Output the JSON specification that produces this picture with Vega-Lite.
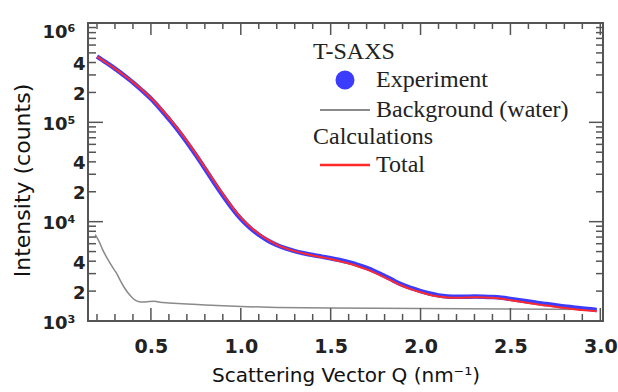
{
  "$schema": "https://vega.github.io/schema/vega-lite/v6.json",
  "width": 515,
  "height": 298,
  "autosize": {"type": "none"},
  "padding": {"left": 88, "top": 23, "right": 15, "bottom": 71},
  "background": "white",
  "config": {
    "view": {"stroke": "#555555", "strokeWidth": 2},
    "axis": {"domain": false, "grid": false, "labelOverlap": false, "labelBound": false, "labelFlush": false}
  },
  "datasets": {
    "curves": [
      {"q": 0.19, "I": 7400, "series": "Background (water)"},
      {"q": 0.21, "I": 6400, "series": "Background (water)"},
      {"q": 0.23, "I": 5300, "series": "Background (water)"},
      {"q": 0.25, "I": 4500, "series": "Background (water)"},
      {"q": 0.27, "I": 3900, "series": "Background (water)"},
      {"q": 0.29, "I": 3400, "series": "Background (water)"},
      {"q": 0.31, "I": 3000, "series": "Background (water)"},
      {"q": 0.33, "I": 2550, "series": "Background (water)"},
      {"q": 0.35, "I": 2200, "series": "Background (water)"},
      {"q": 0.37, "I": 1950, "series": "Background (water)"},
      {"q": 0.39, "I": 1760, "series": "Background (water)"},
      {"q": 0.41, "I": 1630, "series": "Background (water)"},
      {"q": 0.43, "I": 1570, "series": "Background (water)"},
      {"q": 0.46, "I": 1550, "series": "Background (water)"},
      {"q": 0.49, "I": 1570, "series": "Background (water)"},
      {"q": 0.52, "I": 1580, "series": "Background (water)"},
      {"q": 0.55, "I": 1545, "series": "Background (water)"},
      {"q": 0.6, "I": 1520, "series": "Background (water)"},
      {"q": 0.7, "I": 1480, "series": "Background (water)"},
      {"q": 0.8, "I": 1450, "series": "Background (water)"},
      {"q": 0.9, "I": 1420, "series": "Background (water)"},
      {"q": 1.0, "I": 1400, "series": "Background (water)"},
      {"q": 1.2, "I": 1370, "series": "Background (water)"},
      {"q": 1.5, "I": 1350, "series": "Background (water)"},
      {"q": 2.0, "I": 1335, "series": "Background (water)"},
      {"q": 2.5, "I": 1320, "series": "Background (water)"},
      {"q": 2.98, "I": 1305, "series": "Background (water)"},

      {"q": 0.2, "I": 460000, "series": "Experiment"},
      {"q": 0.25, "I": 401000, "series": "Experiment"},
      {"q": 0.3, "I": 347000, "series": "Experiment"},
      {"q": 0.35, "I": 297000, "series": "Experiment"},
      {"q": 0.4, "I": 252000, "series": "Experiment"},
      {"q": 0.45, "I": 210000, "series": "Experiment"},
      {"q": 0.5, "I": 173000, "series": "Experiment"},
      {"q": 0.55, "I": 138000, "series": "Experiment"},
      {"q": 0.6, "I": 108000, "series": "Experiment"},
      {"q": 0.65, "I": 83600, "series": "Experiment"},
      {"q": 0.7, "I": 63100, "series": "Experiment"},
      {"q": 0.75, "I": 46800, "series": "Experiment"},
      {"q": 0.8, "I": 34300, "series": "Experiment"},
      {"q": 0.85, "I": 25000, "series": "Experiment"},
      {"q": 0.9, "I": 18400, "series": "Experiment"},
      {"q": 0.95, "I": 13800, "series": "Experiment"},
      {"q": 1.0, "I": 10700, "series": "Experiment"},
      {"q": 1.05, "I": 8710, "series": "Experiment"},
      {"q": 1.1, "I": 7380, "series": "Experiment"},
      {"q": 1.15, "I": 6460, "series": "Experiment"},
      {"q": 1.2, "I": 5820, "series": "Experiment"},
      {"q": 1.25, "I": 5370, "series": "Experiment"},
      {"q": 1.3, "I": 5050, "series": "Experiment"},
      {"q": 1.35, "I": 4810, "series": "Experiment"},
      {"q": 1.4, "I": 4610, "series": "Experiment"},
      {"q": 1.45, "I": 4450, "series": "Experiment"},
      {"q": 1.5, "I": 4290, "series": "Experiment"},
      {"q": 1.55, "I": 4110, "series": "Experiment"},
      {"q": 1.6, "I": 3910, "series": "Experiment"},
      {"q": 1.65, "I": 3680, "series": "Experiment"},
      {"q": 1.7, "I": 3420, "series": "Experiment"},
      {"q": 1.75, "I": 3130, "series": "Experiment"},
      {"q": 1.8, "I": 2840, "series": "Experiment"},
      {"q": 1.85, "I": 2550, "series": "Experiment"},
      {"q": 1.9, "I": 2310, "series": "Experiment"},
      {"q": 1.95, "I": 2140, "series": "Experiment"},
      {"q": 2.0, "I": 2000, "series": "Experiment"},
      {"q": 2.05, "I": 1890, "series": "Experiment"},
      {"q": 2.1, "I": 1810, "series": "Experiment"},
      {"q": 2.15, "I": 1765, "series": "Experiment"},
      {"q": 2.2, "I": 1750, "series": "Experiment"},
      {"q": 2.25, "I": 1755, "series": "Experiment"},
      {"q": 2.3, "I": 1760, "series": "Experiment"},
      {"q": 2.35, "I": 1755, "series": "Experiment"},
      {"q": 2.4, "I": 1740, "series": "Experiment"},
      {"q": 2.45, "I": 1715, "series": "Experiment"},
      {"q": 2.5, "I": 1670, "series": "Experiment"},
      {"q": 2.55, "I": 1620, "series": "Experiment"},
      {"q": 2.6, "I": 1570, "series": "Experiment"},
      {"q": 2.65, "I": 1520, "series": "Experiment"},
      {"q": 2.7, "I": 1480, "series": "Experiment"},
      {"q": 2.75, "I": 1440, "series": "Experiment"},
      {"q": 2.8, "I": 1400, "series": "Experiment"},
      {"q": 2.85, "I": 1370, "series": "Experiment"},
      {"q": 2.9, "I": 1340, "series": "Experiment"},
      {"q": 2.95, "I": 1310, "series": "Experiment"},
      {"q": 2.98, "I": 1290, "series": "Experiment"},

      {"q": 0.2, "I": 458000, "series": "Total"},
      {"q": 0.25, "I": 400000, "series": "Total"},
      {"q": 0.3, "I": 347000, "series": "Total"},
      {"q": 0.35, "I": 298000, "series": "Total"},
      {"q": 0.4, "I": 254000, "series": "Total"},
      {"q": 0.45, "I": 213000, "series": "Total"},
      {"q": 0.5, "I": 176000, "series": "Total"},
      {"q": 0.55, "I": 141000, "series": "Total"},
      {"q": 0.6, "I": 111000, "series": "Total"},
      {"q": 0.65, "I": 86100, "series": "Total"},
      {"q": 0.7, "I": 65000, "series": "Total"},
      {"q": 0.75, "I": 48200, "series": "Total"},
      {"q": 0.8, "I": 35300, "series": "Total"},
      {"q": 0.85, "I": 25800, "series": "Total"},
      {"q": 0.9, "I": 19000, "series": "Total"},
      {"q": 0.95, "I": 14200, "series": "Total"},
      {"q": 1.0, "I": 11000, "series": "Total"},
      {"q": 1.05, "I": 8950, "series": "Total"},
      {"q": 1.1, "I": 7560, "series": "Total"},
      {"q": 1.15, "I": 6580, "series": "Total"},
      {"q": 1.2, "I": 5880, "series": "Total"},
      {"q": 1.25, "I": 5390, "series": "Total"},
      {"q": 1.3, "I": 5050, "series": "Total"},
      {"q": 1.35, "I": 4790, "series": "Total"},
      {"q": 1.4, "I": 4570, "series": "Total"},
      {"q": 1.45, "I": 4390, "series": "Total"},
      {"q": 1.5, "I": 4210, "series": "Total"},
      {"q": 1.55, "I": 4000, "series": "Total"},
      {"q": 1.6, "I": 3790, "series": "Total"},
      {"q": 1.65, "I": 3560, "series": "Total"},
      {"q": 1.7, "I": 3310, "series": "Total"},
      {"q": 1.75, "I": 3030, "series": "Total"},
      {"q": 1.8, "I": 2750, "series": "Total"},
      {"q": 1.85, "I": 2480, "series": "Total"},
      {"q": 1.9, "I": 2250, "series": "Total"},
      {"q": 1.95, "I": 2080, "series": "Total"},
      {"q": 2.0, "I": 1950, "series": "Total"},
      {"q": 2.05, "I": 1840, "series": "Total"},
      {"q": 2.1, "I": 1760, "series": "Total"},
      {"q": 2.15, "I": 1720, "series": "Total"},
      {"q": 2.2, "I": 1710, "series": "Total"},
      {"q": 2.25, "I": 1720, "series": "Total"},
      {"q": 2.3, "I": 1730, "series": "Total"},
      {"q": 2.35, "I": 1725, "series": "Total"},
      {"q": 2.4, "I": 1710, "series": "Total"},
      {"q": 2.45, "I": 1675, "series": "Total"},
      {"q": 2.5, "I": 1620, "series": "Total"},
      {"q": 2.55, "I": 1570, "series": "Total"},
      {"q": 2.6, "I": 1520, "series": "Total"},
      {"q": 2.65, "I": 1470, "series": "Total"},
      {"q": 2.7, "I": 1430, "series": "Total"},
      {"q": 2.75, "I": 1390, "series": "Total"},
      {"q": 2.8, "I": 1350, "series": "Total"},
      {"q": 2.85, "I": 1320, "series": "Total"},
      {"q": 2.9, "I": 1290, "series": "Total"},
      {"q": 2.95, "I": 1270, "series": "Total"},
      {"q": 2.98, "I": 1255, "series": "Total"}
    ],
    "xticks": [
      {"q": 0.2, "kind": "minor"}, {"q": 0.3, "kind": "minor"}, {"q": 0.4, "kind": "minor"}, {"q": 0.5, "kind": "major"},
      {"q": 0.6, "kind": "minor"}, {"q": 0.7, "kind": "minor"}, {"q": 0.8, "kind": "minor"}, {"q": 0.9, "kind": "minor"}, {"q": 1.0, "kind": "major"},
      {"q": 1.1, "kind": "minor"}, {"q": 1.2, "kind": "minor"}, {"q": 1.3, "kind": "minor"}, {"q": 1.4, "kind": "minor"}, {"q": 1.5, "kind": "major"},
      {"q": 1.6, "kind": "minor"}, {"q": 1.7, "kind": "minor"}, {"q": 1.8, "kind": "minor"}, {"q": 1.9, "kind": "minor"}, {"q": 2.0, "kind": "major"},
      {"q": 2.1, "kind": "minor"}, {"q": 2.2, "kind": "minor"}, {"q": 2.3, "kind": "minor"}, {"q": 2.4, "kind": "minor"}, {"q": 2.5, "kind": "major"},
      {"q": 2.6, "kind": "minor"}, {"q": 2.7, "kind": "minor"}, {"q": 2.8, "kind": "minor"}, {"q": 2.9, "kind": "minor"}, {"q": 3.0, "kind": "major"}
    ],
    "yticks": [
      {"I": 1000, "kind": "major"}, {"I": 2000, "kind": "minor"}, {"I": 3000, "kind": "minor"}, {"I": 4000, "kind": "minor"}, {"I": 5000, "kind": "minor"},
      {"I": 6000, "kind": "minor"}, {"I": 7000, "kind": "minor"}, {"I": 8000, "kind": "minor"}, {"I": 9000, "kind": "minor"},
      {"I": 10000, "kind": "major"}, {"I": 20000, "kind": "minor"}, {"I": 30000, "kind": "minor"}, {"I": 40000, "kind": "minor"}, {"I": 50000, "kind": "minor"},
      {"I": 60000, "kind": "minor"}, {"I": 70000, "kind": "minor"}, {"I": 80000, "kind": "minor"}, {"I": 90000, "kind": "minor"},
      {"I": 100000, "kind": "major"}, {"I": 200000, "kind": "minor"}, {"I": 300000, "kind": "minor"}, {"I": 400000, "kind": "minor"}, {"I": 500000, "kind": "minor"},
      {"I": 600000, "kind": "minor"}, {"I": 700000, "kind": "minor"}, {"I": 800000, "kind": "minor"}, {"I": 900000, "kind": "minor"},
      {"I": 1000000, "kind": "major"}
    ]
  },
  "layer": [
    {
      "data": {"name": "curves"},
      "transform": [{"filter": "datum.series === 'Background (water)'"}],
      "mark": {"type": "line", "strokeWidth": 1.5, "interpolate": "monotone"},
      "encoding": {
        "x": {
          "field": "q", "type": "quantitative",
          "scale": {"domain": [0.15, 3.015], "nice": false, "zero": false},
          "axis": {
            "orient": "bottom",
            "values": [0.5, 1.0, 1.5, 2.0, 2.5, 3.0],
            "format": ".1f",
            "ticks": false,
            "labelPadding": 16,
            "labelFont": "DejaVu Sans", "labelFontWeight": "bold", "labelFontSize": 19, "labelColor": "#222222",
            "title": "Scattering Vector Q (nm⁻¹)",
            "titleFont": "DejaVu Sans", "titleFontSize": 20, "titleFontWeight": "normal", "titleColor": "#111111",
            "titlePadding": 9
          }
        },
        "y": {
          "field": "I", "type": "quantitative",
          "scale": {"type": "log", "domain": [1000, 1000000], "nice": false},
          "axis": {
            "orient": "left",
            "values": [1000,2000,4000,10000,20000,40000,100000,200000,400000,1000000],
            "labelExpr": "indexof([1000,10000,100000,1000000], datum.value) >= 0 ? ('10' + ['³','⁴','⁵','⁶'][indexof([1000,10000,100000,1000000], datum.value)]) : (indexof([2000,20000,200000], datum.value) >= 0 ? '2' : '4')",
            "ticks": false,
            "labelPadding": {"condition": {"test": "indexof([1000,10000,100000,1000000], datum.value) >= 0", "value": 13}, "value": 3},
            "labelOffset": {"condition": {"test": "datum.value == 1000000", "value": 9}, "value": 2},
            "labelFont": "DejaVu Sans", "labelFontWeight": "bold", "labelFontSize": 18, "labelColor": "#222222",
            "title": "Intensity (counts)",
            "titleFont": "DejaVu Sans", "titleFontSize": 22, "titleFontWeight": "normal", "titleColor": "#111111",
            "titlePadding": 8, "titleY": 157
          }
        },
        "color": {
          "field": "series", "type": "nominal",
          "scale": {"domain": ["Experiment", "Background (water)"], "range": ["#3c3cff", "#8a8a8a"]},
          "legend": {
            "title": "T-SAXS",
            "orient": "none", "legendX": 225, "legendY": 17,
            "padding": 0,
            "titleFont": "Liberation Serif", "titleFontSize": 24, "titleFontWeight": "normal", "titleColor": "#222222", "titlePadding": 4,
            "labelFont": "Liberation Serif", "labelFontSize": 24, "labelColor": "#222222", "labelLimit": 400, "labelOffset": 39,
            "symbolSize": 100, "rowPadding": 5,
            "encode": {
              "symbols": {
                "update": {
                  "shape": {"signal": "datum.value === 'Experiment' ? 'M2.3,0A1.7,1.7,0,1,1,5.7,0A1.7,1.7,0,1,1,2.3,0Z' : 'M-1,0H9'"},
                  "fill": {"signal": "datum.value === 'Experiment' ? '#3c3cff' : 'transparent'"},
                  "stroke": {"signal": "datum.value === 'Experiment' ? 'transparent' : '#8a8a8a'"},
                  "strokeWidth": {"value": 2}
                }
              }
            }
          }
        }
      }
    },
    {
      "data": {"name": "xticks"},
      "transform": [{"filter": "datum.kind === 'major'"}],
      "mark": {"type": "tick", "orient": "vertical", "size": 13, "thickness": 1.5, "color": "#555555", "opacity": 1, "yOffset": -6.5},
      "encoding": {
        "x": {"field": "q", "type": "quantitative", "axis": null},
        "y": {"datum": 1000, "type": "quantitative", "axis": null}
      }
    },
    {
      "data": {"name": "xticks"},
      "transform": [{"filter": "datum.kind === 'minor'"}],
      "mark": {"type": "tick", "orient": "vertical", "size": 7, "thickness": 1.5, "color": "#555555", "opacity": 1, "yOffset": -3.5},
      "encoding": {
        "x": {"field": "q", "type": "quantitative", "axis": null},
        "y": {"datum": 1000, "type": "quantitative", "axis": null}
      }
    },
    {
      "data": {"name": "xticks"},
      "transform": [{"filter": "datum.kind === 'major'"}],
      "mark": {"type": "tick", "orient": "vertical", "size": 12, "thickness": 1.5, "color": "#555555", "opacity": 1, "yOffset": 6},
      "encoding": {
        "x": {"field": "q", "type": "quantitative", "axis": null},
        "y": {"datum": 1000000, "type": "quantitative", "axis": null}
      }
    },
    {
      "data": {"name": "xticks"},
      "transform": [{"filter": "datum.kind === 'minor'"}],
      "mark": {"type": "tick", "orient": "vertical", "size": 6, "thickness": 1.5, "color": "#555555", "opacity": 1, "yOffset": 3},
      "encoding": {
        "x": {"field": "q", "type": "quantitative", "axis": null},
        "y": {"datum": 1000000, "type": "quantitative", "axis": null}
      }
    },
    {
      "data": {"name": "yticks"},
      "transform": [{"filter": "datum.kind === 'major'"}],
      "mark": {"type": "tick", "orient": "horizontal", "size": 15, "thickness": 1.5, "color": "#555555", "opacity": 1, "xOffset": 7.5},
      "encoding": {
        "y": {"field": "I", "type": "quantitative", "axis": null},
        "x": {"datum": 0.15, "type": "quantitative", "axis": null}
      }
    },
    {
      "data": {"name": "yticks"},
      "transform": [{"filter": "datum.kind === 'minor'"}],
      "mark": {"type": "tick", "orient": "horizontal", "size": 8, "thickness": 1.5, "color": "#555555", "opacity": 1, "xOffset": 4},
      "encoding": {
        "y": {"field": "I", "type": "quantitative", "axis": null},
        "x": {"datum": 0.15, "type": "quantitative", "axis": null}
      }
    },
    {
      "data": {"name": "yticks"},
      "transform": [{"filter": "datum.kind === 'major'"}],
      "mark": {"type": "tick", "orient": "horizontal", "size": 14, "thickness": 1.5, "color": "#555555", "opacity": 1, "xOffset": -7},
      "encoding": {
        "y": {"field": "I", "type": "quantitative", "axis": null},
        "x": {"datum": 3.015, "type": "quantitative", "axis": null}
      }
    },
    {
      "data": {"name": "yticks"},
      "transform": [{"filter": "datum.kind === 'minor'"}],
      "mark": {"type": "tick", "orient": "horizontal", "size": 7, "thickness": 1.5, "color": "#555555", "opacity": 1, "xOffset": -3.5},
      "encoding": {
        "y": {"field": "I", "type": "quantitative", "axis": null},
        "x": {"datum": 3.015, "type": "quantitative", "axis": null}
      }
    },
    {
      "data": {"name": "curves"},
      "transform": [{"filter": "datum.series === 'Experiment'"}],
      "mark": {"type": "line", "strokeWidth": 4.5, "interpolate": "monotone"},
      "encoding": {
        "x": {"field": "q", "type": "quantitative", "axis": null},
        "y": {"field": "I", "type": "quantitative", "axis": null},
        "color": {"field": "series", "type": "nominal"}
      }
    },
    {
      "data": {"name": "curves"},
      "transform": [{"filter": "datum.series === 'Total'"}],
      "mark": {"type": "line", "strokeWidth": 2, "interpolate": "monotone"},
      "encoding": {
        "x": {"field": "q", "type": "quantitative", "axis": null},
        "y": {"field": "I", "type": "quantitative", "axis": null},
        "stroke": {
          "field": "series", "type": "nominal",
          "scale": {"domain": ["Total"], "range": ["#ff2b2b"]},
          "legend": {
            "title": "Calculations",
            "orient": "none", "legendX": 225, "legendY": 102,
            "padding": 0,
            "titleFont": "Liberation Serif", "titleFontSize": 24, "titleFontWeight": "normal", "titleColor": "#222222", "titlePadding": 4,
            "labelFont": "Liberation Serif", "labelFontSize": 24, "labelColor": "#222222", "labelLimit": 400, "labelOffset": 39,
            "symbolSize": 100, "rowPadding": 5,
            "encode": {
              "symbols": {
                "update": {
                  "shape": {"value": "M-1,0H9"},
                  "fill": {"value": "transparent"},
                  "stroke": {"value": "#ff2b2b"},
                  "strokeWidth": {"value": 2.5}
                }
              }
            }
          }
        }
      }
    }
  ],
  "resolve": {"axis": {"x": "independent", "y": "independent"}}
}
